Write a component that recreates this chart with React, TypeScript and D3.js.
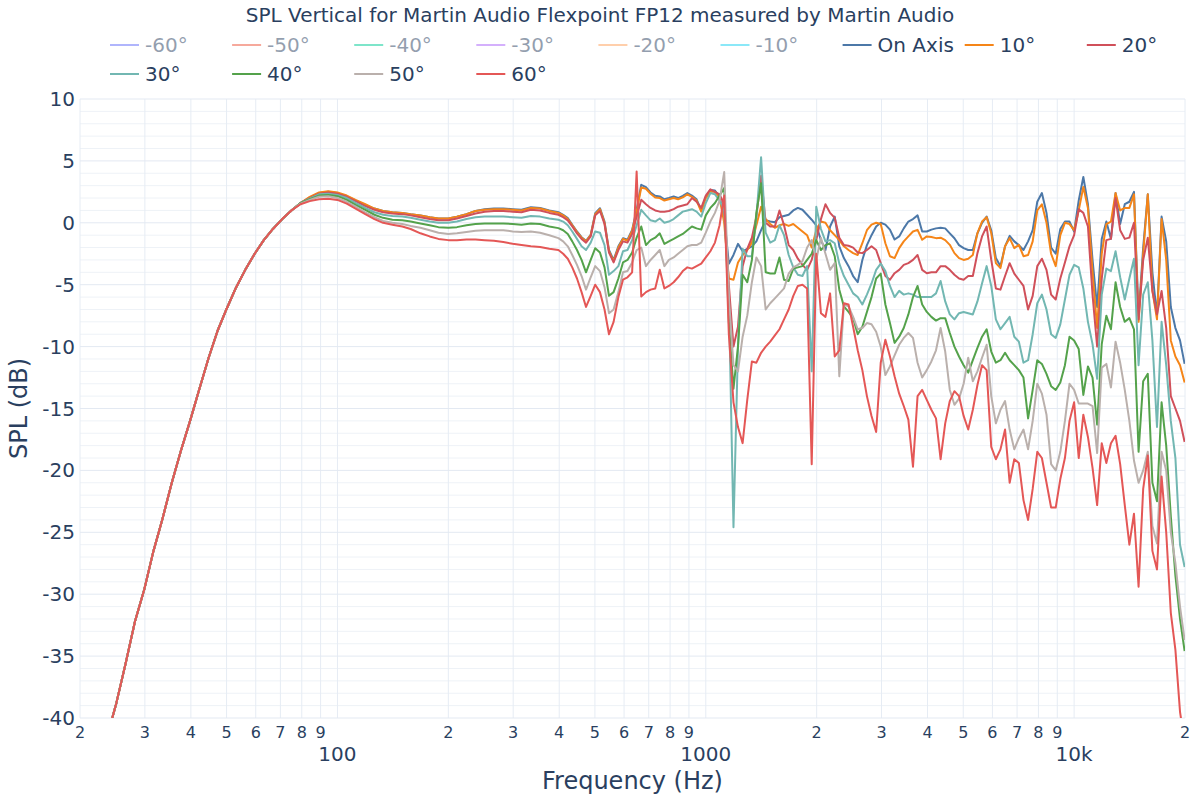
import React from "react";
import * as d3 from "d3";

// ---------- DATA ----------
const FREQ_HZ = [
  20, 21.2, 22.4, 23.7, 25.1, 26.6, 28.2, 29.9, 31.6, 33.5, 35.5, 37.6, 39.8, 42.2, 44.7, 47.3, 50.1, 53.1, 56.2, 59.6, 63.1, 66.8, 70.8, 75,
  79.4, 84.1, 89.1, 94.4, 100, 106, 112, 119, 126, 133, 141, 150, 158, 168, 178, 188, 200, 211, 224, 237, 251, 266, 282, 299, 316, 335, 355, 376,
  398, 410, 422, 434, 447, 460, 473, 487, 501, 516, 531, 546, 562, 579, 596, 613, 631, 649, 668, 688, 708, 729, 750, 772, 794, 818, 841, 866, 891, 917, 944, 972,
  1000, 1029, 1059, 1090, 1122, 1155, 1189, 1223, 1259, 1296,
  1334, 1372, 1413, 1454, 1496, 1540, 1585, 1631, 1679, 1728,
  1778, 1830, 1884, 1939, 1995, 2054, 2113, 2175, 2239, 2304,
  2371, 2441, 2512, 2585, 2661, 2738, 2818, 2901, 2985, 3073,
  3162, 3255, 3350, 3447, 3548, 3652, 3758, 3868, 3981, 4097,
  4217, 4340, 4467, 4597, 4732, 4870, 5012, 5158, 5309, 5464,
  5623, 5788, 5957, 6131, 6310, 6494, 6683, 6879, 7079, 7286,
  7499, 7718, 7943, 8175, 8414, 8660, 8913, 9173, 9441, 9716,
  10000, 10292, 10593, 10902, 11220, 11548, 11885, 12232, 12589, 12957,
  13335, 13725, 14125, 14538, 14962, 15399, 15849, 16312, 16788, 17278,
  17783, 18302, 18836, 19387, 19953,
];

// shared low-frequency roll-off (20 Hz .. 75 Hz), identical for all angles
const LOW_ROLLOFF = [
  -50, -47, -44.5, -41.5, -38.8, -35.6, -32.2, -29.6, -26.6, -23.9, -21.0, -18.4, -16.0, -13.4, -10.9, -8.7, -6.9, -5.2, -3.8, -2.5, -1.4, -0.5, 0.3, 1.0,
];

// values from 79.4 Hz upward
const ON_AXIS = [
  1.6, 2.05, 2.4, 2.5, 2.4, 2.15, 1.8, 1.45, 1.15, 0.95, 0.85, 0.8, 0.7, 0.6, 0.45, 0.35, 0.35, 0.5, 0.7, 0.95, 1.1, 1.15, 1.15, 1.1, 1.05, 1.25, 1.2, 1.0,
  0.86, 0.65, 0.38, -0.16, -0.7, -1.16, -1.45, -0.97, 0.78, 1.18, 0.1, -2.2, -3.0, -1.9, -1.24, -1.37, -0.57, 1.05, 3.07, 2.88, 2.45, 2.18, 2.13, 1.9, 2.0, 2.13, 2.0, 2.18, 2.4, 2.2, 1.9, 1.0,
  2.1, 2.65, 2.6, 2.1, 0.5, -3.3, -2.6, -1.7, -2.3, -2.1,
  -1.9, -1.5, -0.6, 0.2, 0.1, 0.05, 0.45, 0.55, 0.65, 1.0,
  1.2, 1.05, 0.65, 0.25, -0.2, -1.4, -2.2, -0.3, 0.5, -1.9,
  -2.85, -3.5, -4.3, -4.8, -3.0, -1.8, -1.0, -0.3, 0, -0.15,
  -0.55, -1.35, -1.1, -0.45, 0.1, 0.3, 0.6, -0.7, -0.7, -0.55,
  -0.45, -0.4, -0.45, -0.85, -1.25, -1.8, -2.05, -2.2, -2.2, -0.85,
  0, 0.5, -0.6, -2.85, -3.5, -1.9, -1.05, -1.5, -1.8, -2.2,
  -1.5, -0.6, 1.7, 2.4, 0.8, -2.0, -2.5, -0.5, 0.1, 0.1,
  -0.7, 1.8, 3.7, 1.5, -3.0, -6.8, -1.3, 0.1, -1.3, 2.4,
  -0.1, 1.5, 1.7, 2.5, -7.5, -2.0, 2.3, -4.0, -7.5, 0.5,
  -1.5, -6.8, -8.5, -9.5, -11.4,
];

const DEG_10 = [
  1.6, 2.1, 2.45, 2.55, 2.45, 2.2, 1.85, 1.5, 1.15, 0.95, 0.85, 0.8, 0.7, 0.6, 0.45, 0.35, 0.35, 0.5, 0.7, 0.95, 1.05, 1.1, 1.1, 1.05, 1.0, 1.2, 1.15, 0.95,
  0.8, 0.6, 0.3, -0.2, -0.75, -1.2, -1.5, -1.0, 0.7, 1.1, 0.0, -2.3, -3.1, -2.0, -1.3, -1.45, -0.65, 0.9, 2.85, 2.75, 2.35, 2.05, 2.0, 1.8, 1.9, 2.0, 1.9, 2.05, 2.3, 2.1, 1.8, 0.9,
  2.0, 2.5, 2.5, 2.0, 0.0, -4.5, -4.6, -3.2, -2.6, -2.2,
  -1.6, -0.2, 1.3, 0.3, -0.1, -0.4, -0.2, -0.1, -0.25, -0.1,
  -0.4, -0.7, -1.0, -2.0, -0.6, 0.1, 0.0, -0.6, -1.0, -1.4,
  -1.9, -2.2, -2.45, -2.6, -1.65, -0.6, -0.15, 0, -0.1, -1.65,
  -2.7, -2.85, -2.05, -1.5, -1.1, -0.7, -0.57, -1.37, -1.1, -1.15,
  -1.24, -1.2, -1.4, -1.78, -2.45, -2.85, -3.0, -2.9, -2.6, -0.83,
  0.1, 0.46, -0.83, -3.26, -3.66, -1.9, -1.24, -2.05, -1.78, -2.7,
  -2.6, -1.5, 1.0, 1.5, 0.0, -2.5, -3.5, -1.0, 0.0, -0.1,
  -0.6, 1.0, 2.9, 1.2, -4.0, -8.5, -2.5, -0.1, 0.1, 2.4,
  1.0, 1.2, 1.2, 2.3, -8.0, -2.5, 2.3, -5.5, -7.8, 0.3,
  -3.0, -9.5, -10.8, -11.5, -12.9,
];

const DEG_20 = [
  1.6, 2.0, 2.35, 2.45, 2.35, 2.1, 1.75, 1.35, 1.05, 0.85, 0.75, 0.7, 0.6, 0.45, 0.3, 0.2, 0.2, 0.35, 0.55, 0.75, 0.9, 0.95, 0.95, 0.9, 0.85, 1.05, 1.0, 0.8,
  0.65, 0.45, 0.2, -0.3, -0.85, -1.3, -1.6, -1.1, 0.6, 0.95, -0.1, -2.4, -3.2, -2.2, -1.5, -1.6, -0.9, 0.5, 1.86, 1.5, 1.2, 1.0, 0.9, 0.9, 0.95, 1.1, 1.3, 1.4, 1.5, 2.0, 1.7, 1.2,
  2.2, 2.7, 2.5, 2.3, 1.5, -5.0, -10.0, -8.4, -3.5, -2.1,
  -1.2, 0.5, 3.8, 0.0, -0.3, -0.3, 1.0, -0.2, -1.8, -2.2,
  -2.9, -3.4, -3.8, -3.0, -1.4, 0.3, 1.5, 0.8, 0.4, -1.2,
  -1.8, -1.85, -2.0, -2.4, -2.45, -2.2, -1.9, -2.2, -3.26, -4.3,
  -4.6, -4.07, -3.8, -3.4, -3.26, -3.0, -2.6, -3.8, -4.07, -4.0,
  -4.0, -3.5, -3.5, -3.8, -4.2, -4.5, -4.6, -4.3, -4.3, -2.45,
  -1.1, -0.3, -3.0, -5.3, -5.4, -4.3, -3.26, -4.1, -4.6, -5.1,
  -7.0, -5.9, -3.5, -2.9, -3.8, -5.8, -6.2, -4.5, -3.2, -1.9,
  -1.0, 1.1, 0.8, -0.3, -5.8, -10.0, -4.5, -1.4, -1.3, 2.0,
  -0.6, -1.3, -1.2, 0.0, -7.8, -3.0, -1.2, -5.5, -7.4, -5.5,
  -8.5, -14.0, -15.0, -16.0, -17.7,
];

const DEG_30 = [
  1.6, 1.95, 2.3, 2.35, 2.25, 2.0, 1.6, 1.2, 0.85, 0.65, 0.55, 0.5, 0.4, 0.25, 0.1, 0.0, 0.0, 0.1, 0.3, 0.45, 0.5, 0.5, 0.5, 0.45, 0.4, 0.55, 0.5, 0.35,
  0.25, 0.1, -0.2, -0.7, -1.3, -1.9, -2.2, -1.6, -0.7, -0.8, -1.8, -4.2, -3.9, -3.5, -2.3, -2.2, -1.4, -0.2, 1.05, 0.6, 0.2, 0.1, 0.35, 0.0, 0.1, 0.3, 0.6, 0.9, 1.0, 1.1, 0.9, 0.5,
  1.6, 2.4, 2.3, 1.8, 1.0, -6.0, -24.6, -10.0, -2.1, -2.7,
  -2.7, 0.5, 5.3, -0.8, -1.6, -1.4, -0.2, -1.0, -2.6, -3.6,
  -4.2, -4.3, -3.5, -12.0, 1.3, -0.5, -1.5, -1.4, -1.65, -3.3,
  -4.3, -5.0, -5.7, -6.0, -6.6, -5.8, -4.9, -3.8, -3.3, -3.9,
  -5.1, -6.0, -5.5, -5.8, -5.7, -5.8, -6.0, -6.0, -6.0, -6.0,
  -5.7, -4.7, -6.35, -7.4, -7.8, -7.3, -7.2, -7.3, -7.4, -6.35,
  -4.9, -3.5, -5.1, -7.8, -8.6, -8.1, -7.6, -9.2, -9.6, -11.3,
  -11.1, -9.0, -6.5, -5.8, -7.0, -9.0, -9.3, -8.2, -6.2, -4.2,
  -3.4, -3.6, -5.3, -8.0, -9.8, -12.6, -5.8, -3.7, -3.9, -2.3,
  -4.4, -6.2, -4.5, -2.9, -11.5, -5.8, -4.8, -9.5, -16.5, -8.0,
  -11.5, -16.0, -19.0, -26.0, -27.8,
];

const DEG_40 = [
  1.6, 1.9, 2.2, 2.25, 2.15, 1.85, 1.45, 1.05, 0.65, 0.4, 0.25, 0.2, 0.1, -0.05, -0.2, -0.35, -0.4, -0.35, -0.2, -0.1, -0.05, -0.05, -0.05, -0.1, -0.15, -0.05, -0.1, -0.3,
  -0.43, -0.6, -0.9, -1.5, -2.2, -3.0, -4.0, -3.0, -2.05, -2.4, -3.6, -5.9, -5.6, -4.5, -3.2, -3.0, -2.4, -1.2, -0.3, -1.8, -1.4, -1.2, -0.85, -1.7, -1.5, -1.3, -1.1, -0.9, -0.6, -0.3, -0.45, -0.55,
  0.6, 1.2, 1.6, 2.2, 2.8, -8.0, -13.4, -10.0, -4.2, -4.8,
  -3.0, 0.8, 3.2, -4.0, -4.1, -4.1, -2.8, -4.6, -4.7, -3.7,
  -3.6, -3.5, -3.0, -2.5, -1.4, -2.2, -1.8, -1.65, -2.7, -5.4,
  -6.75, -7.2, -7.7, -9.0, -8.4, -7.2, -6.0, -4.5, -4.1, -6.6,
  -8.1, -9.7, -9.2, -8.5, -7.4, -6.0, -5.1, -6.6, -7.2, -7.6,
  -7.9, -7.7, -7.7, -8.9, -10.0, -10.8, -11.5, -12.1, -11.1, -10.1,
  -9.2, -8.6, -10.4, -11.3, -11.1, -10.5, -11.1, -11.5, -11.9, -12.5,
  -15.8, -13.5, -11.1, -11.4, -12.2, -13.2, -13.5, -12.9, -11.5, -9.2,
  -9.5, -10.2, -13.9, -11.6, -12.5, -16.3, -9.8, -7.5, -8.6, -4.8,
  -6.8, -8.0, -7.7, -8.6, -18.5, -12.8, -12.2, -21.0, -22.5, -14.5,
  -18.0, -23.7, -28.5, -32.0, -34.6,
];

const DEG_50 = [
  1.55, 1.85, 2.1, 2.15, 2.0, 1.7, 1.3, 0.85, 0.45, 0.15, 0.0, -0.1, -0.25, -0.4, -0.6, -0.8, -0.9, -0.85, -0.75, -0.65, -0.6, -0.6, -0.6, -0.7, -0.75, -0.7, -0.8, -1.0,
  -1.24, -1.5, -1.9, -2.6, -3.4, -4.3, -5.4, -4.4, -3.5, -3.9, -5.2, -7.3, -7.0, -5.6, -4.0, -3.9, -3.2, -2.2, -2.0, -3.5, -3.0, -2.6, -2.2, -3.5, -3.0, -2.8, -2.5, -2.2, -1.9, -1.8, -1.8, -1.6,
  -0.8, 0.1, 0.8, 1.8, 4.1, -6.0, -11.5, -12.0, -9.2, -7.5,
  -4.8, -2.8, -3.5, -7.0, -6.5, -6.1, -5.7, -5.3, -4.1, -3.6,
  -3.4, -3.1, -2.0, -1.4, -3.0, -1.2, -2.5, -3.8, -3.26, -12.4,
  -6.6, -6.75, -7.6, -8.6, -8.5, -8.1, -8.2, -8.8, -10.0, -12.3,
  -11.6, -10.7, -9.85, -9.3, -8.9, -9.3, -11.3, -12.5, -11.9, -11.2,
  -10.3, -8.5, -10.4, -13.5, -14.7, -14.2, -13.0, -10.9, -12.8, -12.0,
  -10.9, -9.85, -14.0, -16.2, -15.1, -14.4, -16.7, -18.3, -17.4, -16.7,
  -18.3, -16.0, -13.0, -13.8, -15.5, -19.5, -20.0, -18.5, -16.0, -13.0,
  -13.5, -14.6, -14.6, -14.6, -14.8, -18.6, -11.7, -11.4, -13.3, -9.6,
  -11.3, -13.5, -16.0, -19.2, -21.0, -20.0, -18.5, -24.5, -25.9, -18.5,
  -20.0, -25.0, -27.5, -31.0, -33.7,
];

const DEG_60 = [
  1.5, 1.75, 1.9, 1.95, 1.85, 1.55, 1.15, 0.7, 0.3, 0.0, -0.15, -0.3, -0.5, -0.85, -1.1, -1.3, -1.4, -1.4, -1.35, -1.35, -1.4, -1.45, -1.55, -1.7, -1.8, -1.9, -1.95, -2.1,
  -2.2, -2.5, -2.9, -3.6, -4.5, -5.6, -6.8, -5.9, -5.0, -5.6, -7.0, -9.0, -8.0, -6.0, -4.6, -4.4, -4.0, 4.15, -5.95, -5.6, -5.4, -5.3, -3.8, -5.3, -5.1, -4.8, -4.4, -3.9, -3.6, -3.7, -3.5, -3.3,
  -2.8, -2.3, -1.6, -0.2, 2.2, -9.0, -14.5, -16.5, -17.8, -14.3,
  -11.2, -11.3, -10.5, -10.0, -9.6, -9.1, -8.6, -7.8, -7.0, -5.9,
  -5.1, -5.0, -5.3, -19.5, -2.5, -7.3, -7.6, -5.7, -10.8, -10.3,
  -6.5, -6.6, -8.4, -10.3, -11.9, -14.0, -15.6, -16.9, -11.3, -9.45,
  -10.8, -12.4, -13.8, -14.8, -15.9, -19.7, -14.0, -13.5, -14.3, -15.1,
  -15.8, -19.1, -16.2, -14.4, -13.6, -14.0, -15.6, -16.7, -15.1, -13.1,
  -11.5, -11.9, -18.1, -19.1, -18.3, -16.7, -21.0, -19.1, -19.4, -22.4,
  -24.0, -21.5, -18.5, -19.0, -21.0, -23.0, -23.0, -20.7, -19.0, -16.0,
  -14.5, -19.0, -15.5, -17.3, -19.8, -22.8, -17.8, -19.4, -17.8, -17.2,
  -19.5, -22.8, -26.0, -23.5, -29.4, -21.5, -18.8, -26.5, -28.0, -20.5,
  -25.0, -31.5, -34.5, -39.5, -42.0,
];

const LEGEND_NAMES = ["-60°", "-50°", "-40°", "-30°", "-20°", "-10°", "On Axis", "10°", "20°", "30°", "40°", "50°", "60°"];
const LEGEND_COLORS = ["#636efa", "#EF553B", "#00cc96", "#ab63fa", "#FFA15A", "#19d3f3", "#4C78A8", "#F58518", "#D0505A", "#72B7B2", "#54A24B", "#BAB0AC", "#E45756"];
const LEGEND_VISIBLE = [false, false, false, false, false, false, true, true, true, true, true, true, true];
const VISIBLE_VALUES = [ON_AXIS, DEG_10, DEG_20, DEG_30, DEG_40, DEG_50, DEG_60];

const TITLE = "SPL Vertical for Martin Audio Flexpoint FP12 measured by Martin Audio";
const X_TITLE = "Frequency (Hz)";
const Y_TITLE = "SPL (dB)";

// ---------- CHART ----------
const FONT = "'DejaVu Sans', Verdana, sans-serif";
const TEXT = "#2a3f5f";

export default function App() {
  const left = 80, right = 1185, top = 99, bottom = 718;
  const x = d3.scaleLog().domain([20, 20000]).range([left, right]);
  const y = d3.scaleLinear().domain([-40, 10]).range([bottom, top]);

  const line = d3
    .line<[number, number]>()
    .x((d) => x(d[0]))
    .y((d) => y(d[1]));

  const nLow = LOW_ROLLOFF.length;
  const traces = VISIBLE_VALUES.map((vals, k) => {
    const pts: [number, number][] = [];
    const n = Math.min(FREQ_HZ.length, nLow + vals.length);
    for (let i = 0; i < n; i++) {
      pts.push([FREQ_HZ[i], i < nLow ? LOW_ROLLOFF[i] : vals[i - nLow]]);
    }
    return { color: LEGEND_COLORS[6 + k], d: line(pts) || "" };
  });

  const xTicks = x.ticks();
  const yMajor = y.ticks(10);
  const yMinor = y.ticks(50).filter((v) => !yMajor.includes(v));

  const isPow10 = (v: number) => Math.abs(Math.log10(v) - Math.round(Math.log10(v))) < 1e-9;
  const xLabel = (v: number) => {
    if (isPow10(v)) return v >= 10000 ? `${v / 1000}k` : `${v}`;
    return `${Math.round(v / Math.pow(10, Math.floor(Math.log10(v))))}`;
  };

  const colStart = 110;
  const colStep = 122.1;
  const perRow = 9;

  return (
    <svg
      width={1200}
      height={800}
      style={{ position: "absolute", left: 0, top: 0, background: "#fff" }}
      fontFamily={FONT}
    >
      <defs>
        <clipPath id="plotclip">
          <rect x={left} y={top} width={right - left} height={bottom - top} />
        </clipPath>
      </defs>
      <rect x={0} y={0} width={1200} height={800} fill="#fff" />

      {/* grid */}
      {yMinor.map((v) => (
        <line key={`ym${v}`} x1={left} x2={right} y1={y(v)} y2={y(v)} stroke="#EEF2F7" strokeWidth={1} />
      ))}
      {xTicks.map((v) => (
        <line key={`xg${v}`} x1={x(v)} x2={x(v)} y1={top} y2={bottom} stroke="#E6ECF4" strokeWidth={1} />
      ))}
      {yMajor.map((v) => (
        <line key={`yg${v}`} x1={left} x2={right} y1={y(v)} y2={y(v)} stroke="#E3E9F2" strokeWidth={1} />
      ))}

      {/* traces */}
      <g clipPath="url(#plotclip)">
        {traces.map((t, i) => (
          <path key={i} d={t.d} fill="none" stroke={t.color} strokeWidth={2} strokeLinejoin="round" />
        ))}
      </g>

      {/* y tick labels */}
      {yMajor.map((v) => (
        <text key={`yl${v}`} x={75} y={y(v)} textAnchor="end" dominantBaseline="central" fontSize={20} fill={TEXT}>
          {`${v}`}
        </text>
      ))}

      {/* x tick labels */}
      {xTicks.map((v) =>
        isPow10(v) ? (
          <text key={`xl${v}`} x={x(v)} y={754} textAnchor="middle" dominantBaseline="central" fontSize={20} fill={TEXT}>
            {xLabel(v)}
          </text>
        ) : (
          <text key={`xl${v}`} x={x(v)} y={732} textAnchor="middle" dominantBaseline="central" fontSize={16} fill={TEXT}>
            {xLabel(v)}
          </text>
        )
      )}

      {/* axis titles */}
      <text x={(left + right) / 2} y={781} textAnchor="middle" dominantBaseline="central" fontSize={24} fill={TEXT}>
        {X_TITLE}
      </text>
      <text
        transform={`translate(19, ${(top + bottom) / 2}) rotate(-90)`}
        textAnchor="middle"
        dominantBaseline="central"
        fontSize={24}
        fill={TEXT}
      >
        {Y_TITLE}
      </text>

      {/* title */}
      <text x={600} y={15} textAnchor="middle" dominantBaseline="central" fontSize={20} fill={TEXT}>
        {TITLE}
      </text>

      {/* legend */}
      {LEGEND_NAMES.map((name, i) => {
        const row = Math.floor(i / perRow);
        const col = i % perRow;
        const lx = colStart + col * colStep;
        const ly = 45 + row * 29;
        const op = LEGEND_VISIBLE[i] ? 1 : 0.5;
        return (
          <g key={name} opacity={op}>
            <line x1={lx} x2={lx + 29} y1={ly} y2={ly} stroke={LEGEND_COLORS[i]} strokeWidth={2} />
            <text x={lx + 35} y={ly} dominantBaseline="central" fontSize={20} fill={TEXT}>
              {name}
            </text>
          </g>
        );
      })}
    </svg>
  );
}
